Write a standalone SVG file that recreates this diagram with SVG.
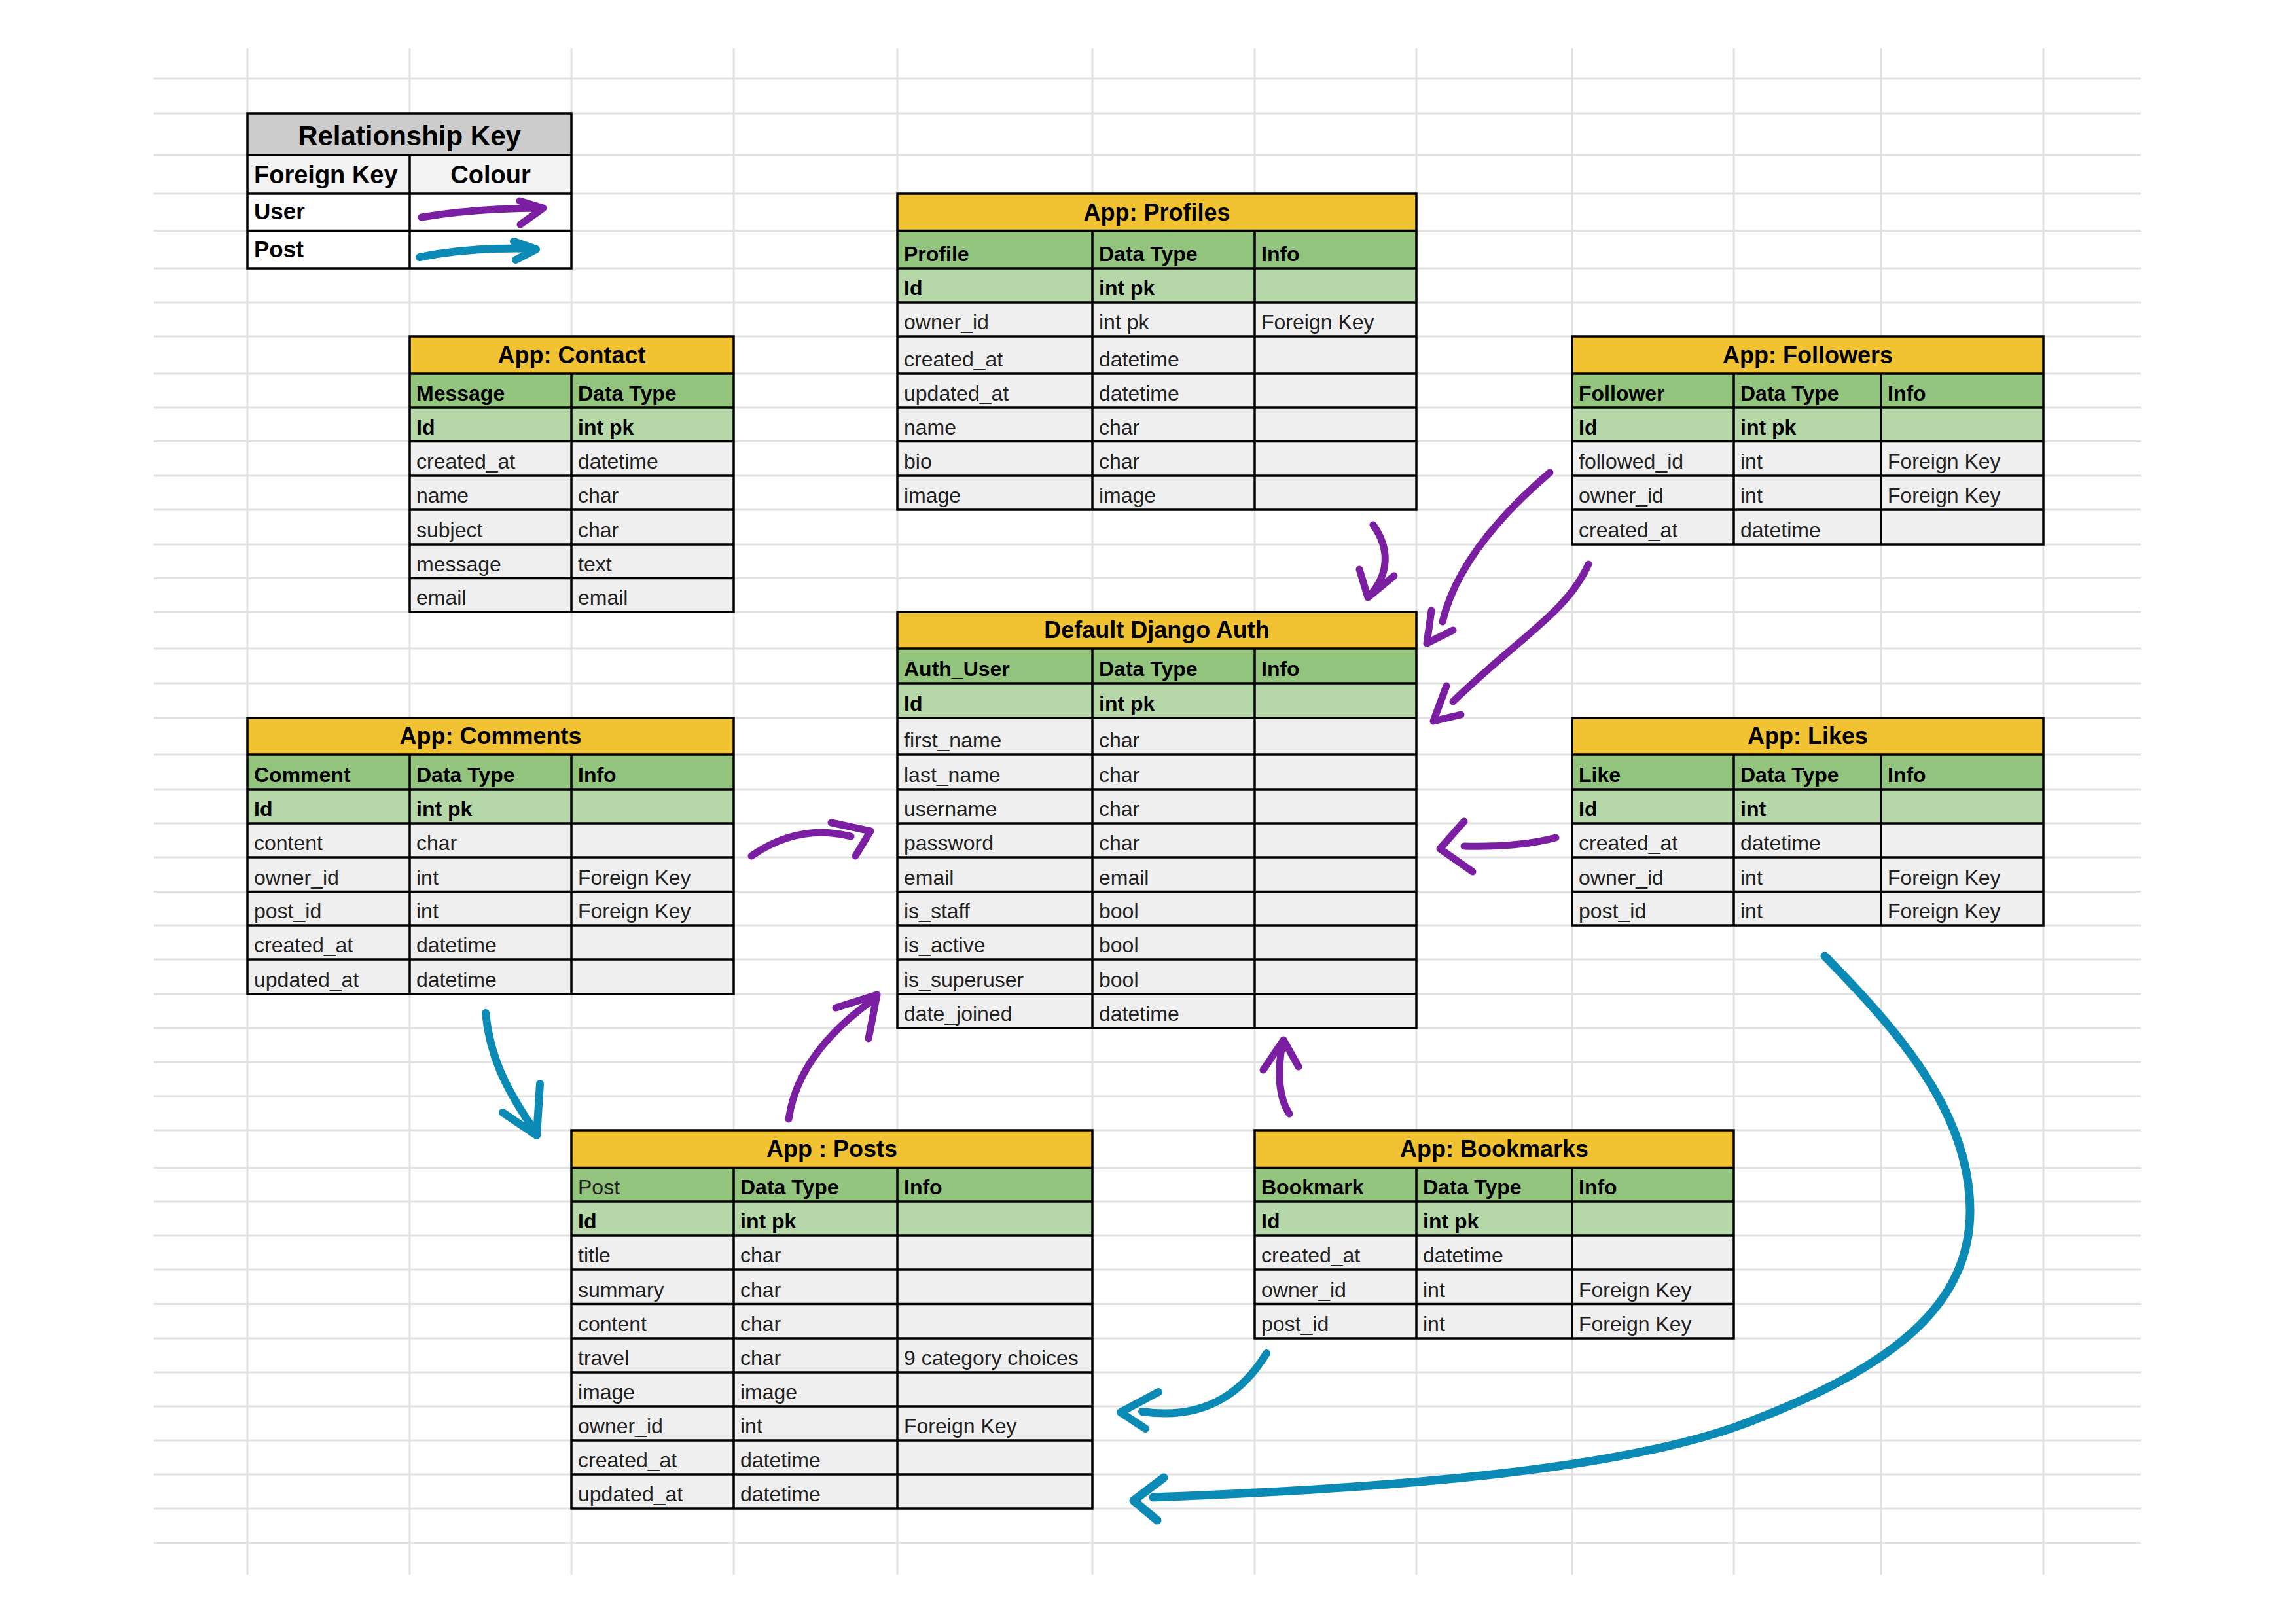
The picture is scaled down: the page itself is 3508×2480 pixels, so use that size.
<svg xmlns="http://www.w3.org/2000/svg" width="3508" height="2480" viewBox="0 0 3508 2480">
<style>
.grid{fill:none;stroke:#e1e1e1;stroke-width:3}
.bd{fill:none;stroke:#000;stroke-width:3.5}
.ti{fill:#f1c232}
.hd{fill:#93c47d}
.pk{fill:#b6d7a8}
.rw{fill:#efefef}
text{font-family:"Liberation Sans",Arial,sans-serif;fill:#000}
.t{font-size:36px;font-weight:bold;text-anchor:middle}
.h{font-size:32px;font-weight:bold}
.b{font-size:32px;fill:#222}
.ku{stroke:#7b1fa2;stroke-width:11;fill:none;stroke-linecap:round;stroke-linejoin:round}
.kp{stroke:#0a8ab5;stroke-width:12;fill:none;stroke-linecap:round;stroke-linejoin:round}
</style>
<rect width="3508" height="2480" fill="#fff"/>
<g id="grid">
<path class="grid" d="M378,74V2406M626,74V2406M873,74V2406M1121,74V2406M1371,74V2406M1669,74V2406M1917,74V2406M2164,74V2406M2402,74V2406M2649,74V2406M2874,74V2406M3122,74V2406"/>
<path class="grid" d="M235,120H3271M235,173H3271M235,237H3271M235,296H3271M235,352.5H3271M235,410H3271M235,462H3271M235,514H3271M235,571H3271M235,623H3271M235,674.5H3271M235,727H3271M235,779H3271M235,832H3271M235,883.5H3271M235,935H3271M235,991H3271M235,1044H3271M235,1097H3271M235,1153H3271M235,1206H3271M235,1258H3271M235,1310H3271M235,1362.5H3271M235,1414H3271M235,1466H3271M235,1519H3271M235,1571H3271M235,1623H3271M235,1675H3271M235,1727H3271M235,1784.5H3271M235,1836H3271M235,1888H3271M235,1940H3271M235,1992.5H3271M235,2045H3271M235,2097H3271M235,2149H3271M235,2201H3271M235,2253H3271M235,2305H3271M235,2357.5H3271"/>
</g>

<g id="key">
<rect x="378" y="173" width="495" height="64" fill="#cccccc"/>
<rect x="378" y="237" width="495" height="59" fill="#f3f3f3"/>
<rect x="378" y="296" width="495" height="114" fill="#fff"/>
<path class="bd" d="M378,173H873V410H378ZM378,237H873M378,296H873M378,352.5H873M626,237V410"/>
<text x="625.5" y="222" style="font-size:42px;font-weight:bold;text-anchor:middle">Relationship Key</text>
<text x="388" y="280" style="font-size:38px;font-weight:bold">Foreign Key</text>
<text x="749.5" y="280" style="font-size:38px;font-weight:bold;text-anchor:middle">Colour</text>
<text x="388" y="335" style="font-size:35px;font-weight:bold">User</text>
<text x="388" y="393" style="font-size:35px;font-weight:bold">Post</text>
<path class="ku" d="M644,332Q730,318 828,318M794,307L830,318L795,343"/>
<path class="kp" d="M641,393Q720,377 818,380M785,369L819,381L788,397"/>
</g>

<g id="contact">
<rect class="ti" x="626" y="514" width="495" height="57"/>
<rect class="hd" x="626" y="571" width="495" height="52"/>
<rect class="pk" x="626" y="623" width="495" height="51.5"/>
<rect class="rw" x="626" y="674.5" width="495" height="260.5"/>
<path class="bd" d="M626,514H1121V935H626ZM626,571H1121M626,623H1121M626,674.5H1121M626,727H1121M626,779H1121M626,832H1121M626,883.5H1121M873,571V935"/>
<text class="t" x="873.5" y="555">App: Contact</text>
<text class="h" x="636" y="612">Message</text><text class="h" x="883" y="612">Data Type</text>
<text class="h" x="636" y="663.5">Id</text><text class="h" x="883" y="663.5">int pk</text>
<text class="b" x="636" y="716">created_at</text><text class="b" x="883" y="716">datetime</text>
<text class="b" x="636" y="768">name</text><text class="b" x="883" y="768">char</text>
<text class="b" x="636" y="821">subject</text><text class="b" x="883" y="821">char</text>
<text class="b" x="636" y="872.5">message</text><text class="b" x="883" y="872.5">text</text>
<text class="b" x="636" y="924">email</text><text class="b" x="883" y="924">email</text>
</g>

<g id="profiles">
<rect class="ti" x="1371" y="296" width="793" height="56.5"/>
<rect class="hd" x="1371" y="352.5" width="793" height="57.5"/>
<rect class="pk" x="1371" y="410" width="793" height="52"/>
<rect class="rw" x="1371" y="462" width="793" height="317"/>
<path class="bd" d="M1371,296H2164V779H1371ZM1371,352.5H2164M1371,410H2164M1371,462H2164M1371,514H2164M1371,571H2164M1371,623H2164M1371,674.5H2164M1371,727H2164M1669,352.5V779M1917,352.5V779"/>
<text class="t" x="1767.5" y="337">App: Profiles</text>
<text class="h" x="1381" y="399">Profile</text><text class="h" x="1679" y="399">Data Type</text><text class="h" x="1927" y="399">Info</text>
<text class="h" x="1381" y="451">Id</text><text class="h" x="1679" y="451">int pk</text>
<text class="b" x="1381" y="503">owner_id</text><text class="b" x="1679" y="503">int pk</text><text class="b" x="1927" y="503">Foreign Key</text>
<text class="b" x="1381" y="560">created_at</text><text class="b" x="1679" y="560">datetime</text>
<text class="b" x="1381" y="612">updated_at</text><text class="b" x="1679" y="612">datetime</text>
<text class="b" x="1381" y="663.5">name</text><text class="b" x="1679" y="663.5">char</text>
<text class="b" x="1381" y="716">bio</text><text class="b" x="1679" y="716">char</text>
<text class="b" x="1381" y="768">image</text><text class="b" x="1679" y="768">image</text>
</g>

<g id="followers">
<rect class="ti" x="2402" y="514" width="720" height="57"/>
<rect class="hd" x="2402" y="571" width="720" height="52"/>
<rect class="pk" x="2402" y="623" width="720" height="51.5"/>
<rect class="rw" x="2402" y="674.5" width="720" height="157.5"/>
<path class="bd" d="M2402,514H3122V832H2402ZM2402,571H3122M2402,623H3122M2402,674.5H3122M2402,727H3122M2402,779H3122M2649,571V832M2874,571V832"/>
<text class="t" x="2762" y="555">App: Followers</text>
<text class="h" x="2412" y="612">Follower</text><text class="h" x="2659" y="612">Data Type</text><text class="h" x="2884" y="612">Info</text>
<text class="h" x="2412" y="663.5">Id</text><text class="h" x="2659" y="663.5">int pk</text>
<text class="b" x="2412" y="716">followed_id</text><text class="b" x="2659" y="716">int</text><text class="b" x="2884" y="716">Foreign Key</text>
<text class="b" x="2412" y="768">owner_id</text><text class="b" x="2659" y="768">int</text><text class="b" x="2884" y="768">Foreign Key</text>
<text class="b" x="2412" y="821">created_at</text><text class="b" x="2659" y="821">datetime</text>
</g>

<g id="auth">
<rect class="ti" x="1371" y="935" width="793" height="56"/>
<rect class="hd" x="1371" y="991" width="793" height="53"/>
<rect class="pk" x="1371" y="1044" width="793" height="53"/>
<rect class="rw" x="1371" y="1097" width="793" height="474"/>
<path class="bd" d="M1371,935H2164V1571H1371ZM1371,991H2164M1371,1044H2164M1371,1097H2164M1371,1153H2164M1371,1206H2164M1371,1258H2164M1371,1310H2164M1371,1362.5H2164M1371,1414H2164M1371,1466H2164M1371,1519H2164M1669,991V1571M1917,991V1571"/>
<text class="t" x="1767.5" y="975">Default Django Auth</text>
<text class="h" x="1381" y="1033">Auth_User</text><text class="h" x="1679" y="1033">Data Type</text><text class="h" x="1927" y="1033">Info</text>
<text class="h" x="1381" y="1086">Id</text><text class="h" x="1679" y="1086">int pk</text>
<text class="b" x="1381" y="1142">first_name</text><text class="b" x="1679" y="1142">char</text>
<text class="b" x="1381" y="1195">last_name</text><text class="b" x="1679" y="1195">char</text>
<text class="b" x="1381" y="1247">username</text><text class="b" x="1679" y="1247">char</text>
<text class="b" x="1381" y="1299">password</text><text class="b" x="1679" y="1299">char</text>
<text class="b" x="1381" y="1351.5">email</text><text class="b" x="1679" y="1351.5">email</text>
<text class="b" x="1381" y="1403">is_staff</text><text class="b" x="1679" y="1403">bool</text>
<text class="b" x="1381" y="1455">is_active</text><text class="b" x="1679" y="1455">bool</text>
<text class="b" x="1381" y="1508">is_superuser</text><text class="b" x="1679" y="1508">bool</text>
<text class="b" x="1381" y="1560">date_joined</text><text class="b" x="1679" y="1560">datetime</text>
</g>

<g id="comments">
<rect class="ti" x="378" y="1097" width="743" height="56"/>
<rect class="hd" x="378" y="1153" width="743" height="53"/>
<rect class="pk" x="378" y="1206" width="743" height="52"/>
<rect class="rw" x="378" y="1258" width="743" height="261"/>
<path class="bd" d="M378,1097H1121V1519H378ZM378,1153H1121M378,1206H1121M378,1258H1121M378,1310H1121M378,1362.5H1121M378,1414H1121M378,1466H1121M626,1153V1519M873,1153V1519"/>
<text class="t" x="749.5" y="1137">App: Comments</text>
<text class="h" x="388" y="1195">Comment</text><text class="h" x="636" y="1195">Data Type</text><text class="h" x="883" y="1195">Info</text>
<text class="h" x="388" y="1247">Id</text><text class="h" x="636" y="1247">int pk</text>
<text class="b" x="388" y="1299">content</text><text class="b" x="636" y="1299">char</text>
<text class="b" x="388" y="1351.5">owner_id</text><text class="b" x="636" y="1351.5">int</text><text class="b" x="883" y="1351.5">Foreign Key</text>
<text class="b" x="388" y="1403">post_id</text><text class="b" x="636" y="1403">int</text><text class="b" x="883" y="1403">Foreign Key</text>
<text class="b" x="388" y="1455">created_at</text><text class="b" x="636" y="1455">datetime</text>
<text class="b" x="388" y="1508">updated_at</text><text class="b" x="636" y="1508">datetime</text>
</g>

<g id="likes">
<rect class="ti" x="2402" y="1097" width="720" height="56"/>
<rect class="hd" x="2402" y="1153" width="720" height="53"/>
<rect class="pk" x="2402" y="1206" width="720" height="52"/>
<rect class="rw" x="2402" y="1258" width="720" height="156"/>
<path class="bd" d="M2402,1097H3122V1414H2402ZM2402,1153H3122M2402,1206H3122M2402,1258H3122M2402,1310H3122M2402,1362.5H3122M2649,1153V1414M2874,1153V1414"/>
<text class="t" x="2762" y="1137">App: Likes</text>
<text class="h" x="2412" y="1195">Like</text><text class="h" x="2659" y="1195">Data Type</text><text class="h" x="2884" y="1195">Info</text>
<text class="h" x="2412" y="1247">Id</text><text class="h" x="2659" y="1247">int</text>
<text class="b" x="2412" y="1299">created_at</text><text class="b" x="2659" y="1299">datetime</text>
<text class="b" x="2412" y="1351.5">owner_id</text><text class="b" x="2659" y="1351.5">int</text><text class="b" x="2884" y="1351.5">Foreign Key</text>
<text class="b" x="2412" y="1403">post_id</text><text class="b" x="2659" y="1403">int</text><text class="b" x="2884" y="1403">Foreign Key</text>
</g>

<g id="posts">
<rect class="ti" x="873" y="1727" width="796" height="57.5"/>
<rect class="hd" x="873" y="1784.5" width="796" height="51.5"/>
<rect class="pk" x="873" y="1836" width="796" height="52"/>
<rect class="rw" x="873" y="1888" width="796" height="417"/>
<path class="bd" d="M873,1727H1669V2305H873ZM873,1784.5H1669M873,1836H1669M873,1888H1669M873,1940H1669M873,1992.5H1669M873,2045H1669M873,2097H1669M873,2149H1669M873,2201H1669M873,2253H1669M1121,1784.5V2305M1371,1784.5V2305"/>
<text class="t" x="1271" y="1768">App : Posts</text>
<text class="b" x="883" y="1825">Post</text><text class="h" x="1131" y="1825">Data Type</text><text class="h" x="1381" y="1825">Info</text>
<text class="h" x="883" y="1877">Id</text><text class="h" x="1131" y="1877">int pk</text>
<text class="b" x="883" y="1929">title</text><text class="b" x="1131" y="1929">char</text>
<text class="b" x="883" y="1981.5">summary</text><text class="b" x="1131" y="1981.5">char</text>
<text class="b" x="883" y="2034">content</text><text class="b" x="1131" y="2034">char</text>
<text class="b" x="883" y="2086">travel</text><text class="b" x="1131" y="2086">char</text><text class="b" x="1381" y="2086">9 category choices</text>
<text class="b" x="883" y="2138">image</text><text class="b" x="1131" y="2138">image</text>
<text class="b" x="883" y="2190">owner_id</text><text class="b" x="1131" y="2190">int</text><text class="b" x="1381" y="2190">Foreign Key</text>
<text class="b" x="883" y="2242">created_at</text><text class="b" x="1131" y="2242">datetime</text>
<text class="b" x="883" y="2294">updated_at</text><text class="b" x="1131" y="2294">datetime</text>
</g>

<g id="bookmarks">
<rect class="ti" x="1917" y="1727" width="732" height="57.5"/>
<rect class="hd" x="1917" y="1784.5" width="732" height="51.5"/>
<rect class="pk" x="1917" y="1836" width="732" height="52"/>
<rect class="rw" x="1917" y="1888" width="732" height="157"/>
<path class="bd" d="M1917,1727H2649V2045H1917ZM1917,1784.5H2649M1917,1836H2649M1917,1888H2649M1917,1940H2649M1917,1992.5H2649M2164,1784.5V2045M2402,1784.5V2045"/>
<text class="t" x="2283" y="1768">App: Bookmarks</text>
<text class="h" x="1927" y="1825">Bookmark</text><text class="h" x="2174" y="1825">Data Type</text><text class="h" x="2412" y="1825">Info</text>
<text class="h" x="1927" y="1877">Id</text><text class="h" x="2174" y="1877">int pk</text>
<text class="b" x="1927" y="1929">created_at</text><text class="b" x="2174" y="1929">datetime</text>
<text class="b" x="1927" y="1981.5">owner_id</text><text class="b" x="2174" y="1981.5">int</text><text class="b" x="2412" y="1981.5">Foreign Key</text>
<text class="b" x="1927" y="2034">post_id</text><text class="b" x="2174" y="2034">int</text><text class="b" x="2412" y="2034">Foreign Key</text>
</g>

<g id="connectors">
<path class="ku" d="M2098,802C2125,840 2122,880 2090,913M2077,870L2090,913L2130,880"/>
<path class="ku" d="M2368,722Q2230,840 2204,950M2187,933L2180,983L2220,963"/>
<path class="ku" d="M2427,862C2395,935 2320,975 2220,1072M2210,1048L2190,1102L2232,1092"/>
<path class="ku" d="M2377,1280Q2320,1295 2237,1293M2237,1255L2200,1297L2250,1332"/>
<path class="ku" d="M1148,1308Q1220,1258 1300,1278M1270,1257L1330,1270L1307,1308"/>
<path class="ku" d="M1205,1710C1215,1640 1260,1580 1335,1527M1277,1540L1340,1520L1327,1587"/>
<path class="ku" d="M1970,1702C1955,1680 1950,1640 1960,1592M1930,1635L1961,1589L1984,1630"/>
<path class="kp" d="M742,1548C748,1610 770,1660 815,1725M768,1700L820,1735L825,1656"/>
<path class="kp" d="M1935,2068Q1870,2175 1745,2157M1770,2127L1712,2158L1750,2183"/>
<path class="kp" style="stroke-width:13" d="M2788,1461C2900,1575 3010,1700 3010,1850C3010,1990 2900,2090 2650,2181C2450,2250 2100,2275 1762,2288M1778,2258L1732,2293L1768,2323"/>
</g>
</svg>
